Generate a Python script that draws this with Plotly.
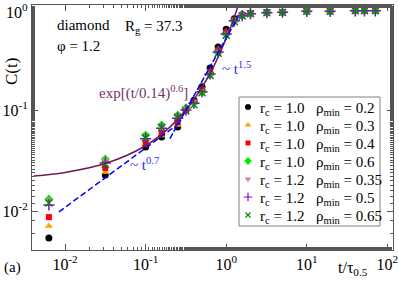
import plotly.graph_objects as go

# ---- data ----
t = [0.0063, 0.0316, 0.1, 0.158, 0.25, 0.316, 0.398, 0.501, 0.631, 0.794,
     1.0, 1.26, 1.58, 2.0, 3.2, 5.0, 10.0, 19.5, 40.0, 52.0, 71.0]

c_rc10_r02 = [0.0054, 0.0227, 0.043, 0.054, 0.068, 0.100, 0.125, 0.170, 0.260, 0.420,
              0.630, 0.800, 0.880, 0.910, 0.930, 0.930, 0.950, 0.950, 0.970, 0.970, 0.970]
c_rc10_r03 = [0.0071, 0.0243, 0.045, 0.056, 0.071, 0.100, 0.120, 0.160, 0.245, 0.400,
              0.600, 0.790, 0.870, 0.910, 0.930, 0.930, 0.950, 0.950, 0.970, 0.970, 0.970]
c_rc10_r04 = [0.0087, 0.0267, 0.047, 0.059, 0.076, 0.100, 0.120, 0.158, 0.238, 0.390,
              0.590, 0.780, 0.870, 0.910, 0.930, 0.930, 0.955, 0.955, 0.970, 0.970, 0.970]
c_rc10_r06 = [0.0131, 0.0327, 0.0565, 0.071, 0.089, 0.105, 0.118, 0.150, 0.225, 0.370,
              0.560, 0.760, 0.860, 0.900, 0.920, 0.930, 0.950, 0.950, 0.960, 0.960, 0.960]
c_rc12_r035 = [0.0128, 0.0320, 0.055, 0.069, 0.086, 0.104, 0.120, 0.155, 0.230, 0.380,
               0.570, 0.770, 0.860, 0.900, 0.920, 0.930, 0.950, 0.950, 0.960, 0.960, 0.960]
c_rc12_r05 = [0.0115, 0.0299, 0.052, 0.066, 0.083, 0.100, 0.117, 0.152, 0.228, 0.375,
              0.565, 0.765, 0.860, 0.900, 0.920, 0.930, 0.950, 0.950, 0.960, 0.960, 0.960]
c_rc12_r065 = [0.0120, 0.0290, 0.053, 0.067, 0.085, 0.098, 0.113, 0.148, 0.220, 0.365,
               0.550, 0.750, 0.855, 0.900, 0.920, 0.930, 0.950, 0.950, 0.960, 0.960, 0.960]

rc_labels = ["1.0", "1.0", "1.0", "1.0", "1.2", "1.2", "1.2"]
rho_labels = ["0.2", "0.3", "0.4", "0.6", "0.35", "0.5", "0.65"]
series_values = [c_rc10_r02, c_rc10_r03, c_rc10_r04, c_rc10_r06,
                 c_rc12_r035, c_rc12_r05, c_rc12_r065]

# tick values / labels
x_tickvals = [0.01, 0.1, 1, 10, 100]
x_ticktext = ["10<sup>-2</sup>", "10<sup>-1</sup>", "10<sup>0</sup>", "10<sup>1</sup>", "10<sup>2</sup>"]
y_tickvals = [0.01, 0.1, 1]
y_ticktext = ["10<sup>-2</sup>", "10<sup>-1</sup>", "10<sup>0</sup>"]

# stretched-exponential guide curve exp[(t/0.14)^0.6]
fit_t = [0.0041, 0.01, 0.0316, 0.1, 0.2, 0.316, 0.5, 0.7, 1.0, 1.2, 1.4]
fit_c = [0.0222, 0.0241, 0.0295, 0.0443, 0.0677, 0.100, 0.168, 0.271, 0.51, 0.74, 1.07]

# power-law guide lines (end points)
p07_t = [0.0084, 0.28]
p07_c = [0.0098, 0.077]
p15_t = [0.2, 1.42]
p15_c = [0.052, 0.85]

# ---- styles ----
symbols = ["circle", "triangle-up", "square", "diamond", "triangle-down", "cross-thin", "x-thin"]
colors = ["#000000", "#ffa500", "#ff0000", "#00ee00", "#bc8f8f", "#9400d3", "#008b00"]
sizes = [7, 7, 6, 7, 7, 8, 7]
leg_sizes = [6, 6, 5, 6, 6, 6, 5]

FONT = "Liberation Serif, Times New Roman, serif"

fig = go.Figure()
for vals, sym, col, sz in zip(series_values, symbols, colors, sizes):
    thin = sym.endswith("thin")
    fig.add_trace(go.Scatter(
        x=t, y=vals, mode="markers", showlegend=False,
        marker=dict(symbol=sym, color=col, size=sz,
                    line=dict(width=1.5 if thin else 0, color=col)),
    ))

fig.add_trace(go.Scatter(x=fit_t, y=fit_c, mode="lines", showlegend=False,
                         line=dict(color="#6e1c52", width=1.5, shape="spline")))
fig.add_trace(go.Scatter(x=p07_t, y=p07_c, mode="lines", showlegend=False,
                         line=dict(color="#0000ff", width=1.5, dash="6px,3px")))
fig.add_trace(go.Scatter(x=p15_t, y=p15_c, mode="lines", showlegend=False,
                         line=dict(color="#0000ff", width=1.5, dash="6px,2px")))

axis_common = dict(
    type="log", showgrid=False, zeroline=False, automargin=False,
    showline=True, linecolor="#555555", linewidth=1, mirror="ticks",
    ticks="inside", ticklen=6, tickcolor="#555555", tickwidth=1,
    minor=dict(ticks="inside", ticklen=3, tickcolor="#555555", tickwidth=1, showgrid=False),
    tickfont=dict(family=FONT, size=16, color="black"),
)

# ---- manual legend (box, markers on an overlay axis in plot-fraction units, text) ----
W, H = 361.0, 245.0  # plot area size in px
def px2x(px): return (px - 32) / W
def py2y(py): return (250 - py) / H

leg_x0, leg_x1, leg_y0, leg_y1 = px2x(239), px2x(380), py2y(226), py2y(97)
row_y = [py2y(107 + 18 * k) for k in range(7)]

fig.add_shape(type="rect", xref="paper", yref="paper",
              x0=leg_x0, x1=leg_x1, y0=leg_y0, y1=leg_y1,
              line=dict(color="#808080", width=1), fillcolor="white", layer="below")

for k, (sym, col, sz) in enumerate(zip(symbols, colors, leg_sizes)):
    thin = sym.endswith("thin")
    fig.add_trace(go.Scatter(
        x=[px2x(248)], y=[row_y[k]], xaxis="x2", yaxis="y2", mode="markers",
        showlegend=False, hoverinfo="skip",
        marker=dict(symbol=sym, color=col, size=sz,
                    line=dict(width=1.2 if thin else 0, color=col)),
    ))

fig.update_layout(
    width=399, height=281,
    margin=dict(l=32, r=6, t=5, b=31, autoexpand=False),
    paper_bgcolor="white", plot_bgcolor="white",
    xaxis=dict(range=[-2.41, 2.07], tickvals=x_tickvals, ticktext=x_ticktext, **axis_common),
    yaxis=dict(range=[-2.386, 0.04], tickvals=y_tickvals[:2], ticktext=y_ticktext[:2], **axis_common),
    xaxis2=dict(overlaying="x", range=[0, 1], visible=False, fixedrange=True, automargin=False),
    yaxis2=dict(overlaying="y", range=[0, 1], visible=False, fixedrange=True, automargin=False),
    showlegend=False,
    font=dict(family=FONT, color="black"),
)

# top y tick label (drawn as annotation at the 10^0 position so it is not hidden at the edge)
fig.add_annotation(text=y_ticktext[2], x=0, y=0, xref="paper", yref="y",
                   xanchor="right", yanchor="middle", xshift=-2, yshift=-2, showarrow=False,
                   font=dict(family=FONT, size=16, color="black"))

def txt(s, x, y, color="black", size=15, **kw):
    fig.add_annotation(text=s, x=x, y=y, xref="paper", yref="paper",
                       showarrow=False, xanchor=kw.pop("xanchor", "left"),
                       yanchor=kw.pop("yanchor", "middle"),
                       font=dict(family=FONT, size=size, color=color), **kw)

for k in range(7):
    txt("r<sub>c</sub> = " + rc_labels[k], px2x(258), row_y[k] - 0.008, size=15)
    txt("ρ<sub>min</sub> = " + rho_labels[k], px2x(314), row_y[k] - 0.008, size=15)

txt("diamond", px2x(55), py2y(25))
txt("R<sub>g</sub> = 37.3", px2x(123), py2y(27))
txt("φ = 1.2", px2x(55), py2y(46))
txt("exp[(t/0.14)<sup>0.6</sup>]", px2x(97), py2y(92), color="#7a3168")
txt("~ t<sup>0.7</sup>", px2x(128), py2y(164), color="#2a2aff")
txt("~ t<sup>1.5</sup>", px2x(220), py2y(68), color="#2a2aff")
txt("(a)", px2x(2), py2y(267))
txt("t/τ<sub>0.5</sub>", px2x(336), py2y(268), size=16)
txt("C(t)", px2x(12), py2y(72), size=17, textangle=-90, xanchor="center")

fig.write_html("out.html", config={"displayModeBar": False},
               post_script="document.body.style.margin='0';")
